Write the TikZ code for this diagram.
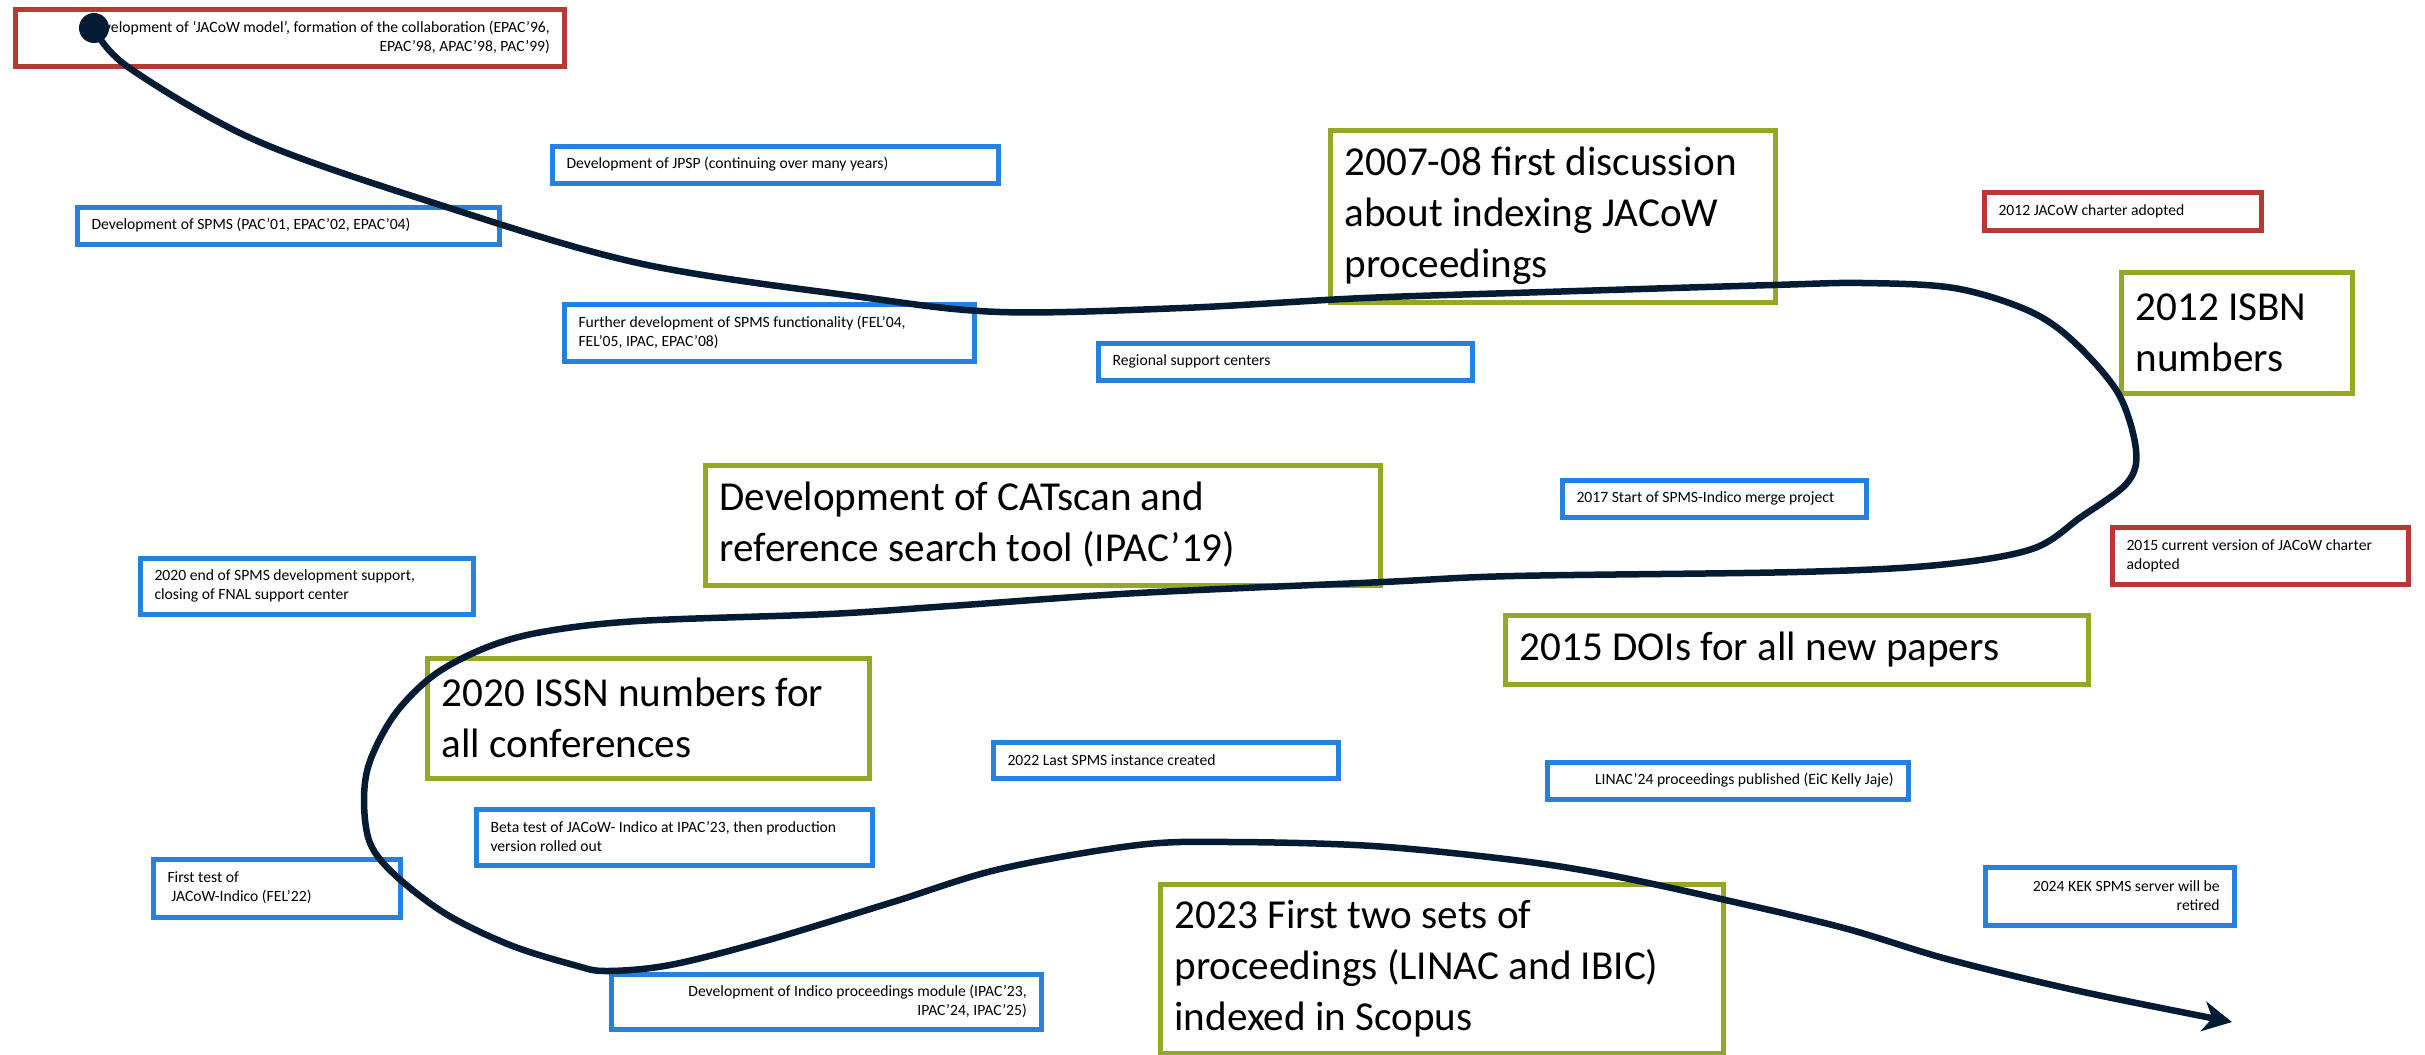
\documentclass[tikz,border=0pt]{standalone}
\usepackage{fontspec}
\setmainfont{Carlito}
\usetikzlibrary{arrows.meta}

\definecolor{jred}{RGB}{182,58,52}
\definecolor{jgreen}{RGB}{150,166,38}
\definecolor{jblue}{RGB}{38,128,222}
\definecolor{jnavy}{RGB}{4,27,52}

\begin{document}
\begin{tikzpicture}[x=0.01cm, y=-0.01cm,
	box/.style={draw, line width=0.05cm, anchor=north west, inner xsep=0.145cm, inner ysep=0pt, align=flush left},
	bluebox/.style={box, draw=jblue, font=\fontsize{4.45}{5.4}\selectfont},
	redbox/.style={box, draw=jred, font=\fontsize{4.45}{5.4}\selectfont},
	greenbox/.style={box, draw=jgreen, font=\fontsize{11.7}{14.5}\selectfont},
	timeline/.style={jnavy, line width=0.065cm}]
	\useasboundingbox (0,0) rectangle (2425,1054);

	%% JACoW Meilensteine (rot)
	\node[redbox, align=flush right, text width=5.20cm, minimum height=0.57cm] (model) at (12.5,6.5)
		{Development of ‘JACoW model’, formation of the collaboration (EPAC’96,\\EPAC’98, APAC’98, PAC’99)};
	\node[redbox, text width=2.48cm, minimum height=0.38cm] (charter) at (1981.5,189.5) {2012 JACoW charter adopted};
	\node[redbox, text width=2.67cm, minimum height=0.57cm] (charternew) at (2109.5,524.5)
		{2015 current version of JACoW charter\\adopted};

	%% Software (blau)
	\node[bluebox, text width=4.17cm, minimum height=0.37cm] (jpsp) at (549.5,143.5) {Development of JPSP (continuing over many years)};
	\node[bluebox, text width=3.93cm, minimum height=0.37cm] (spms) at (74.5,204.5) {Development of SPMS (PAC’01, EPAC’02, EPAC’04)};
	\node[bluebox, text width=3.81cm, minimum height=0.57cm] (spmsmore) at (561.5,301.5)
		{Further development of SPMS functionality (FEL’04,\\FEL’05, IPAC, EPAC’08)};
	\node[bluebox, text width=3.45cm, minimum height=0.37cm] (regional) at (1095.5,340.5) {Regional support centers};
	\node[bluebox, text width=2.75cm, minimum height=0.37cm] (merge) at (1559.5,477.5) {2017 Start of SPMS-Indico merge project};
	\node[bluebox, text width=3.04cm, minimum height=0.56cm] (spmsend) at (137.5,555.5)
		{2020 end of SPMS development support,\\closing of FNAL support center};
	\node[bluebox, text width=3.16cm, minimum height=0.36cm] (lastspms) at (990.5,739.5) {2022 Last SPMS instance created};
	\node[bluebox, align=flush right, text width=3.32cm, minimum height=0.37cm] (linac) at (1544.5,759.5)
		{LINAC’24 proceedings published (EiC Kelly Jaje)};
	\node[bluebox, text width=3.67cm, minimum height=0.56cm] (beta) at (473.5,806.5)
		{Beta test of JACoW- Indico at IPAC’23, then production\\version rolled out};
	\node[bluebox, text width=2.18cm, minimum height=0.58cm] (firsttest) at (150.5,856.5)
		{First test of\\\hspace*{0.25em}JACoW-Indico (FEL’22)};
	\node[bluebox, align=flush right, text width=2.20cm, minimum height=0.58cm] (kek) at (1982.5,864.5)
		{2024 KEK SPMS server will be\\retired};
	\node[bluebox, align=flush right, text width=4.01cm, minimum height=0.55cm] (indico) at (608.5,971.5)
		{Development of Indico proceedings module (IPAC’23,\\IPAC’24, IPAC’25)};

	%% Indexierung (gruen)
	\node[greenbox, text width=4.16cm, minimum height=1.72cm] (discuss) at (1327.5,127.5)
		{2007-08 first discussion\\about indexing JACoW\\proceedings};
	\node[greenbox, text width=2.02cm, minimum height=1.21cm] (isbn) at (2118.5,269.5) {2012 ISBN\\numbers};
	\node[greenbox, text width=6.46cm, minimum height=1.20cm] (catscan) at (702.5,462.5)
		{Development of CATscan and\\reference search tool (IPAC’19)};
	\node[greenbox, text width=5.54cm, minimum height=0.69cm] (doi) at (1502.5,612.5) {2015 DOIs for all new papers};
	\node[greenbox, text width=4.13cm, minimum height=1.20cm] (issn) at (424.5,655.5) {2020 ISSN numbers for\\all conferences};
	\node[greenbox, text width=5.34cm, minimum height=1.69cm] (scopus) at (1157.5,881.5)
		{2023 First two sets of\\proceedings (LINAC and IBIC)\\indexed in Scopus};

	%%%%%%%%%%%%%%%%

	%% Zeitstrahl
	\coordinate (start) at (94,28);
	\coordinate (end) at (2232,1022);
	\draw[timeline, -{Stealth[length=0.29cm, width=0.3cm, inset=0.09cm]}] plot[smooth, tension=0.55] coordinates {
		(start) (128,67) (255,140) (434,203) (638,263) (861,297) (1000,312) (1182,308) (1364,298)
		(1545,292) (1773,285) (1863,283) (1954,288) (2027,310) (2072,340) (2118,393) (2136,450)
		(2127,483) (2081,517) (2032,549) (1938,565) (1797,572) (1514,576) (1383,582) (1138,593)
		(950,606) (829,614) (638,621) (542,632) (485,648) (434,675) (395,714) (370,761) (364,800)
		(370,843) (395,875) (446,914) (510,945) (574,965) (606,971) (670,965) (765,941) (893,902)
		(1000,869) (1138,845) (1232,842) (1373,846) (1514,860) (1609,875) (1721,899) (1844,928)
		(1947,959) (2079,991) (end)};
	\fill[jnavy] (start) circle[radius=0.15cm];

%\draw (current bounding box.south west) rectangle (current bounding box.north east);
\end{tikzpicture}
\end{document}
